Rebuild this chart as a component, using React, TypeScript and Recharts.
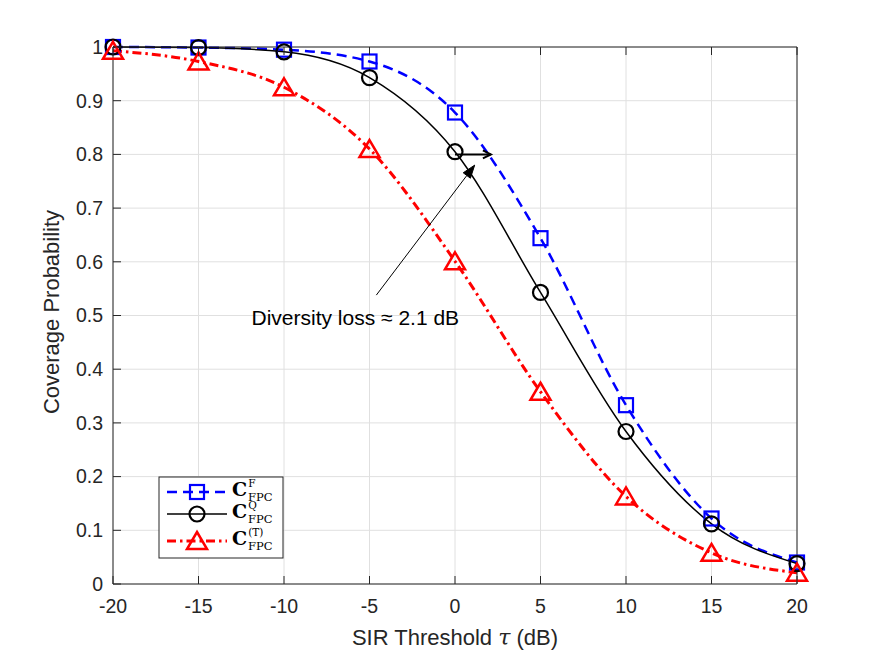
import React from 'react';
import {
  LineChart,
  Line,
  XAxis,
  YAxis,
  CartesianGrid,
  ReferenceLine,
  Customized,
} from 'recharts';

// SIR threshold in dB, one point per marker
const tau = [-20, -15, -10, -5, 0, 5, 10, 15, 20];
// coverage probability of each scheme
const covF = [1.0, 0.999, 0.995, 0.973, 0.878, 0.644, 0.333, 0.122, 0.04];
const covQ = [1.0, 0.999, 0.991, 0.943, 0.805, 0.543, 0.284, 0.112, 0.038];
const covT = [0.993, 0.973, 0.925, 0.81, 0.601, 0.358, 0.163, 0.058, 0.021];

const xTicks = [-20, -15, -10, -5, 0, 5, 10, 15, 20];
const yTicks = [0, 0.1, 0.2, 0.3, 0.4, 0.5, 0.6, 0.7, 0.8, 0.9, 1];

// annotation: diversity loss measured at P = 0.8
const lossArrow = [{ x: -4.6, y: 0.538 }, { x: 1.15, y: 0.78 }];
const lossSpan = [{ x: 0, y: 0.8 }, { x: 2.1, y: 0.8 }];
const lossLabel = 'Diversity loss \u2248 2.1 dB';

const data = tau.map((t, i) => ({ tau: t, F: covF[i], Q: covQ[i], T: covT[i] }));

const W = 875;
const H = 657;
// plot box spans x 113..797, y 47..584
const MARGIN = { top: 46, right: 77, bottom: 33, left: 43 };
const AX = '#262626';
const FONT = '"Liberation Sans", Arial, Helvetica, sans-serif';
const TEX = '"DejaVu Serif", "Liberation Serif", serif';
const TICK = 8;

type Marker = 'square' | 'circle' | 'triangle';

const series = [
  { key: 'F', sup: 'F', color: '#0000ff', width: 2.5, dash: '10 6', marker: 'square' as Marker },
  { key: 'Q', sup: 'Q', color: '#000000', width: 1.5, dash: undefined, marker: 'circle' as Marker },
  { key: 'T', sup: '(T)', color: '#ff0000', width: 3, dash: '9 4 2.5 4', marker: 'triangle' as Marker },
];

function MarkerShape({ cx, cy, type, color }: { cx: number; cy: number; type: Marker; color: string }) {
  if (type === 'square') {
    return <rect x={cx - 7} y={cy - 7} width={14} height={14} fill="none" stroke={color} strokeWidth={2.2} />;
  }
  if (type === 'circle') {
    return <circle cx={cx} cy={cy} r={7.5} fill="none" stroke={color} strokeWidth={2.2} />;
  }
  const p = `${cx},${cy - 9} ${cx + 10},${cy + 8} ${cx - 10},${cy + 8}`;
  return <polygon points={p} fill="none" stroke={color} strokeWidth={2.5} strokeLinejoin="miter" />;
}

const BottomTick = (props: any) => {
  const { x, y, payload } = props;
  return (
    <g>
      <line x1={x} y1={y} x2={x} y2={y - TICK} stroke={AX} strokeWidth={1} />
      <text x={x} y={y + 29} textAnchor="middle" fill={AX} fontFamily={FONT} fontSize={19.5}>
        {payload.value}
      </text>
    </g>
  );
};

const TopTick = (props: any) => {
  const { x, y } = props;
  return <line x1={x} y1={y} x2={x} y2={y + TICK} stroke={AX} strokeWidth={1} />;
};

const LeftTick = (props: any) => {
  const { x, y, payload } = props;
  return (
    <g>
      <line x1={x} y1={y} x2={x + TICK} y2={y} stroke={AX} strokeWidth={1} />
      <text x={x - 10} y={y} dy="0.35em" textAnchor="end" fill={AX} fontFamily={FONT} fontSize={19.5}>
        {payload.value}
      </text>
    </g>
  );
};

const RightTick = (props: any) => {
  const { x, y } = props;
  return <line x1={x} y1={y} x2={x - TICK} y2={y} stroke={AX} strokeWidth={1} />;
};

// long thin arrow with a filled head, label below its tail
const LossArrow = (props: any) => {
  const { x1, y1, x2, y2 } = props;
  const dx = x2 - x1;
  const dy = y2 - y1;
  const len = Math.hypot(dx, dy);
  const ux = dx / len;
  const uy = dy / len;
  const hl = 13;
  const hw = 4.5;
  const bx = x2 - ux * hl;
  const by = y2 - uy * hl;
  const head = `${x2},${y2} ${bx - uy * hw},${by + ux * hw} ${bx + uy * hw},${by - ux * hw}`;
  return (
    <g>
      <line x1={x1} y1={y1} x2={bx} y2={by} stroke="#000" strokeWidth={1} />
      <polygon points={head} fill="#000" stroke="#000" strokeWidth={1} />
      <text x={x1 - 21} y={y1 + 30} textAnchor="middle" fill="#000" fontFamily={FONT} fontSize={21}>
        {lossLabel}
      </text>
    </g>
  );
};

// short horizontal arrow with an open head
const SpanArrow = (props: any) => {
  const { x1, y1, x2, y2 } = props;
  return (
    <g stroke="#000" strokeWidth={2} fill="none">
      <line x1={x1} y1={y1} x2={x2} y2={y2} />
      <polyline points={`${x2 - 8},${y2 - 4} ${x2},${y2} ${x2 - 8},${y2 + 4}`} />
    </g>
  );
};

const AxisLabels = () => {
  const px = 455;
  const py = 312;
  return (
    <g fill={AX} fontFamily={FONT} fontSize={22}>
      <text x={px} y={645} textAnchor="middle">
        SIR Threshold <tspan fontFamily={TEX} fontStyle="italic">{'\u03c4'}</tspan> (dB)
      </text>
      <text x={59} y={py} textAnchor="middle" transform={`rotate(-90 59 ${py})`}>
        Coverage Probability
      </text>
    </g>
  );
};

// legend label: bold C with the scheme as superscript and FPC as subscript
const LegendBox = () => {
  const rows = [492, 514, 541];
  return (
    <g>
      <rect x={159} y={477} width={124} height={81} fill="#fff" stroke={AX} strokeWidth={1} />
      {series.map((s, i) => (
        <g key={s.key}>
          <line x1={167} y1={rows[i]} x2={227} y2={rows[i]} stroke={s.color} strokeWidth={s.width} strokeDasharray={s.dash} />
          <MarkerShape cx={197} cy={rows[i]} type={s.marker} color={s.color} />
          <text x={232} y={rows[i] + 4} fill="#000" fontFamily={TEX}>
            <tspan fontWeight="bold" fontSize={19}>C</tspan>
            <tspan fontSize={10.5} dx={1} dy={-9}>{s.sup}</tspan>
          </text>
          <text x={248} y={rows[i] + 9} fill="#000" fontFamily={TEX} fontSize={11.5}>FPC</text>
        </g>
      ))}
    </g>
  );
};

export default function App() {
  return (
    <div style={{ position: 'absolute', left: 0, top: 0, width: W, height: H, background: '#fff' }}>
      <LineChart width={W} height={H} data={data} margin={MARGIN}>
        <CartesianGrid yAxisId="left" stroke="#e0e0e0" strokeWidth={1} />
        <XAxis
          dataKey="tau"
          type="number"
          domain={[-20, 20]}
          ticks={xTicks}
          height={40}
          tickSize={0}
          tickMargin={0}
          tickLine={false}
          tick={<BottomTick />}
          axisLine={{ stroke: AX, strokeWidth: 1 }}
          interval={0}
        />
        <XAxis
          xAxisId="top"
          orientation="top"
          dataKey="tau"
          type="number"
          domain={[-20, 20]}
          ticks={xTicks}
          height={1}
          tickSize={0}
          tickMargin={0}
          tickLine={false}
          tick={<TopTick />}
          axisLine={{ stroke: AX, strokeWidth: 1 }}
          interval={0}
        />
        <YAxis
          yAxisId="left"
          type="number"
          domain={[0, 1]}
          ticks={yTicks}
          width={70}
          tickSize={0}
          tickMargin={0}
          tickLine={false}
          tick={<LeftTick />}
          axisLine={{ stroke: AX, strokeWidth: 1 }}
          interval={0}
        />
        <YAxis
          yAxisId="right"
          orientation="right"
          type="number"
          domain={[0, 1]}
          ticks={yTicks}
          width={1}
          tickSize={0}
          tickMargin={0}
          tickLine={false}
          tick={<RightTick />}
          axisLine={{ stroke: AX, strokeWidth: 1 }}
          interval={0}
        />
        {series.map((s) => (
          <Line
            key={s.key}
            yAxisId="left"
            type="monotone"
            dataKey={s.key}
            stroke={s.color}
            strokeWidth={s.width}
            strokeDasharray={s.dash}
            isAnimationActive={false}
            dot={(p: any) => <MarkerShape key={`${s.key}-${p.index}`} cx={p.cx} cy={p.cy} type={s.marker} color={s.color} />}
            activeDot={false}
          />
        ))}
        <ReferenceLine yAxisId="left" segment={lossArrow} shape={<LossArrow />} />
        <ReferenceLine yAxisId="left" segment={lossSpan} shape={<SpanArrow />} />
        <Customized component={<AxisLabels />} />
        <Customized component={<LegendBox />} />
      </LineChart>
    </div>
  );
}
